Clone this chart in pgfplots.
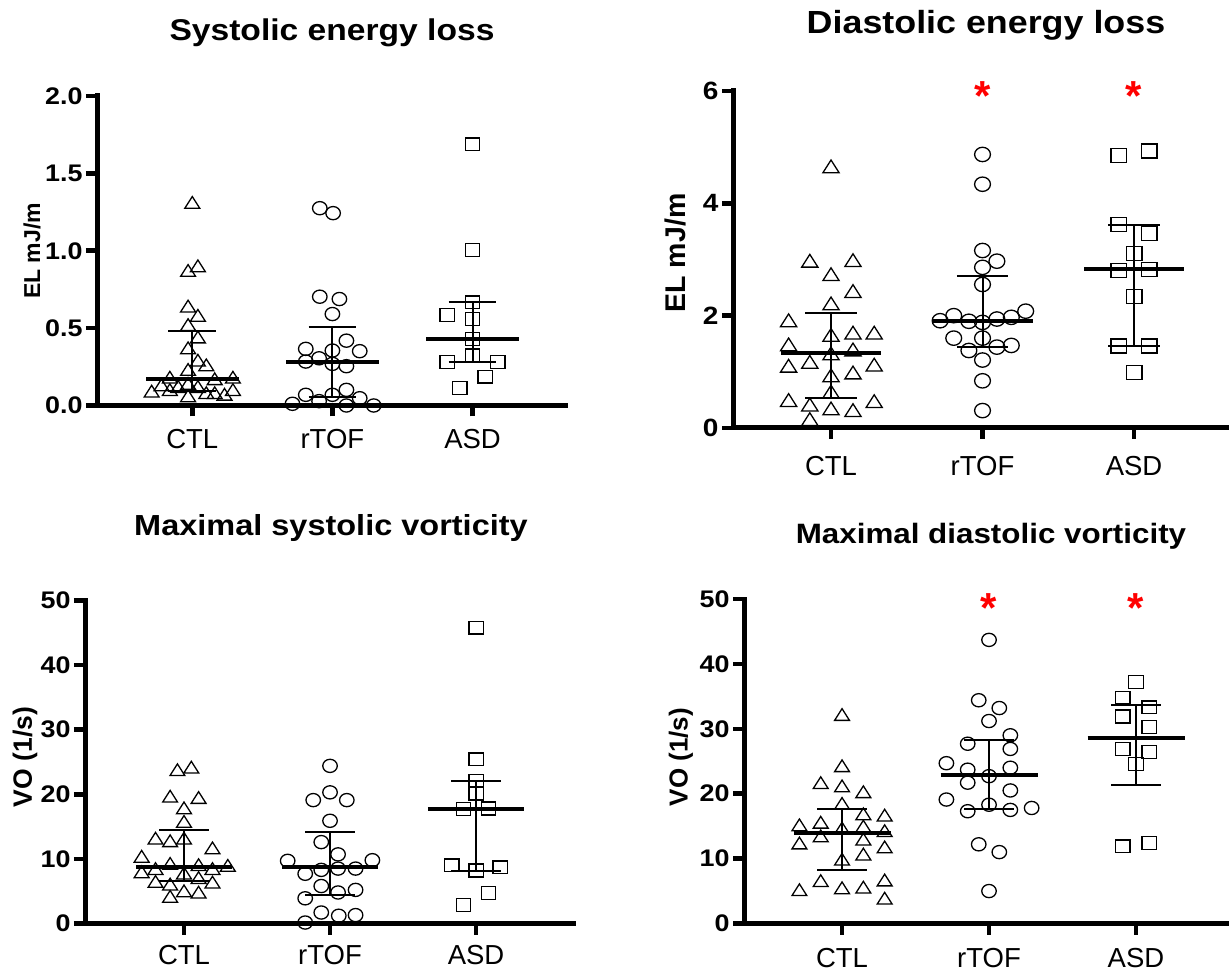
\documentclass[border=0pt]{standalone}
\usepackage{pgfplots}
\pgfplotsset{compat=1.18}
\usepackage{fontspec}
\setmainfont{Liberation Sans}
\newcommand{\sx}[1]{\scalebox{1.12}[1]{#1}}
% #1,#2 median line ends; #3,#4 whisker cap ends; #5 x; #6 median; #7 low; #8 high
\newcommand{\summ}[8]{%
  \addplot[black, line width=2pt] coordinates {(#5,#7) (#5,#8)};
  \addplot[black, line width=2pt] coordinates {(#3,#8) (#4,#8)};
  \addplot[black, line width=2pt] coordinates {(#3,#7) (#4,#7)};
  \addplot[black, line width=4pt] coordinates {(#1,#6) (#2,#6)};
}
\tikzset{sigstar/.style={red, font=\fontsize{42}{42}\selectfont\bfseries, anchor=base, yshift=-23.5pt}}
\pgfplotsset{
  gp/.style={
    scale only axis, anchor=south west, clip=false,
    axis lines=left,
    axis line style={line width=5pt, -, line cap=rect},
    tick align=outside,
    major tick length=11pt,
    tick style={black, line width=4.5pt},
    xtick={1,2,3}, xticklabels={CTL,rTOF,ASD},
    minor tick num=0,
    ymin=0,
    xticklabel style={font=\fontsize{27.5}{30}\selectfont},
    yticklabel style={font=\fontsize{24}{26}\selectfont\bfseries},
  },
  tri/.style={only marks, mark=triangle, mark size=7.8pt, mark options={black, line width=1.3pt, fill=none, xscale=1.1}},
  circ/.style={only marks, mark=o, mark size=6.6pt, mark options={black, line width=1.3pt, fill=none, xscale=1.1}},
  sq/.style={only marks, mark=square, mark size=6.4pt, mark options={black, line width=1.3pt, fill=none, xscale=1.12}},
}
\begin{document}
\begin{tikzpicture}
\useasboundingbox (0pt,0pt) rectangle (1229pt,972pt);

% ---------- Panel 1: Systolic energy loss ----------
\begin{axis}[gp, at={(97pt,566.5pt)}, width=468pt, height=309.5pt,
  xmin=0.32, xmax=3.66, ymax=2,
  xticklabel style={yshift=-9pt},
  ytick={0,0.5,1,1.5,2}, yticklabels={\sx{0.0},\sx{0.5},\sx{1.0},\sx{1.5},\sx{2.0}}]
\addplot[tri] coordinates {(1.00,1.30) (1.04,0.89) (0.97,0.86) (0.97,0.63) (1.04,0.57) (0.97,0.51) (1.04,0.43) (0.97,0.36) (1.04,0.28) (1.10,0.25) (0.97,0.22) (0.84,0.17) (1.16,0.16) (1.29,0.17) (0.78,0.12) (0.97,0.13) (0.71,0.08) (0.84,0.09) (0.90,0.11) (1.04,0.11) (1.10,0.07) (1.16,0.07) (1.23,0.06) (1.29,0.09) (0.97,0.05)};
\addplot[circ] coordinates {(1.91,1.275) (2.005,1.243) (1.91,0.703) (2.05,0.688) (2.00,0.591) (2.10,0.419) (1.81,0.366) (2.00,0.355) (2.195,0.351) (1.81,0.284) (1.905,0.305) (2.00,0.269) (2.10,0.254) (2.10,0.101) (1.81,0.069) (2.00,0.069) (2.195,0.047) (1.905,0.028) (1.715,0.011) (2.10,0.0) (2.295,0.0)};
\addplot[sq] coordinates {(3.00,1.688) (3.00,1.004) (3.00,0.667) (2.82,0.585) (3.00,0.559) (3.00,0.43) (3.00,0.323) (2.82,0.28) (3.18,0.28) (3.09,0.187) (2.91,0.112)};
\summ{0.67}{1.33}{0.83}{1.17}{1}{0.17}{0.095}{0.48}
\summ{1.67}{2.33}{1.83}{2.17}{2}{0.284}{0.055}{0.505}
\summ{2.67}{3.33}{2.83}{3.17}{3}{0.43}{0.28}{0.67}
\end{axis}

% ---------- Panel 2: Diastolic energy loss ----------
\begin{axis}[gp, at={(733pt,544pt)}, width=501pt, height=337pt,
  xmin=0.353, xmax=3.66, ymax=6,
  xticklabel style={yshift=-14pt},
  ytick={0,2,4,6}, yticklabels={\sx{0},\sx{2},\sx{4},\sx{6}},
  yticklabel style={font=\fontsize{25}{27}\selectfont\bfseries},
  tri/.append style={mark size=8.5pt}, circ/.append style={mark size=7.2pt}, sq/.append style={mark size=7pt}]
\addplot[tri] coordinates {(1.00,4.62) (0.86,2.94) (1.145,2.95) (1.00,2.70) (1.145,2.40) (1.00,2.18) (0.72,1.88) (1.00,1.62) (1.145,1.66) (1.285,1.66) (0.72,1.45) (1.145,1.36) (1.00,1.29) (0.86,1.14) (0.72,1.07) (1.285,1.09) (1.145,0.95) (1.00,0.90) (1.00,0.61) (0.72,0.46) (1.285,0.44) (0.86,0.38) (1.00,0.31) (1.145,0.28) (0.86,0.12)};
\addplot[circ] coordinates {(2.00,4.87) (2.00,4.34) (2.00,3.16) (2.095,2.97) (2.00,2.86) (2.00,2.555) (2.285,2.08) (1.72,1.91) (1.81,2.00) (1.91,1.90) (2.00,1.88) (2.095,1.94) (2.19,1.97) (1.81,1.60) (2.00,1.60) (1.91,1.38) (2.095,1.44) (2.19,1.47) (2.00,1.21) (2.00,0.84) (2.00,0.31)};
\addplot[sq] coordinates {(2.90,4.85) (3.10,4.93) (2.90,3.62) (3.10,3.46) (3.00,3.11) (2.90,2.80) (3.10,2.82) (3.00,2.34) (2.90,1.46) (3.10,1.46) (3.00,0.99)};
\summ{0.67}{1.33}{0.83}{1.17}{1}{1.33}{0.535}{2.04}
\summ{1.67}{2.33}{1.83}{2.17}{2}{1.91}{1.45}{2.715}
\summ{2.67}{3.33}{2.83}{3.17}{3}{2.83}{1.46}{3.62}
\node[sigstar, yshift=4pt] at (axis cs:2,6) {*};
\node[sigstar, yshift=4pt] at (axis cs:3,6) {*};
\end{axis}

% ---------- Panel 3: Maximal systolic vorticity ----------
\begin{axis}[gp, at={(85pt,48.5pt)}, width=488pt, height=323pt,
  xmin=0.322, xmax=3.664, ymax=50,
  xticklabel style={yshift=-7pt},
  ytick={0,10,20,30,40,50}, yticklabels={\sx{0},\sx{10},\sx{20},\sx{30},\sx{40},\sx{50}}]
\addplot[tri] coordinates {(0.955,23.5) (1.05,23.9) (0.905,19.4) (1.10,19.2) (1.00,17.6) (1.00,15.5) (0.805,12.9) (0.905,12.5) (1.00,12.9) (1.195,11.4) (0.71,10.1) (0.805,8.2) (0.905,9.0) (1.10,8.8) (1.195,8.2) (1.30,8.7) (0.71,7.7) (1.00,7.5) (1.10,6.8) (0.805,6.2) (0.905,5.8) (1.195,6.1) (1.00,4.75) (1.10,4.55) (0.905,3.9)};
\addplot[circ] coordinates {(2.00,24.4) (2.00,20.3) (1.885,19.1) (2.115,19.1) (2.00,15.9) (1.94,12.6) (2.055,10.7) (1.71,9.7) (2.29,9.8) (1.94,8.3) (2.055,8.5) (2.175,8.5) (1.83,7.7) (1.94,5.8) (2.055,4.8) (2.175,5.2) (1.83,3.9) (1.94,1.7) (2.06,1.2) (2.175,1.3) (1.83,0.15)};
\addplot[sq] coordinates {(3.00,45.8) (3.00,25.4) (3.00,22.1) (3.00,20.1) (2.915,17.7) (3.085,17.8) (2.835,9.0) (3.00,8.2) (3.165,8.7) (3.085,4.75) (2.915,2.85)};
\summ{0.67}{1.33}{0.83}{1.17}{1}{8.8}{6.6}{14.4}
\summ{1.67}{2.33}{1.83}{2.17}{2}{8.7}{4.4}{14.2}
\summ{2.67}{3.33}{2.83}{3.17}{3}{17.8}{8.1}{22.0}
\end{axis}

% ---------- Panel 4: Maximal diastolic vorticity ----------
\begin{axis}[gp, at={(744pt,48.5pt)}, width=489pt, height=324.5pt,
  xmin=0.333, xmax=3.66, ymax=50,
  xticklabel style={yshift=-10pt},
  ytick={0,10,20,30,40,50}, yticklabels={\sx{0},\sx{10},\sx{20},\sx{30},\sx{40},\sx{50}}]
\addplot[tri] coordinates {(1.00,31.9) (1.00,24.0) (0.855,21.4) (1.00,20.9) (1.145,20.0) (1.00,18.2) (1.145,16.6) (1.29,16.4) (0.71,14.9) (0.855,15.3) (1.00,14.4) (1.145,14.7) (1.29,14.0) (0.71,12.1) (0.855,13.2) (1.145,12.7) (1.29,11.5) (1.00,9.6) (1.145,10.4) (0.855,6.3) (1.29,6.4) (0.71,4.9) (1.00,5.2) (1.145,5.3) (1.29,3.6)};
\addplot[circ] coordinates {(2.00,43.7) (1.93,34.4) (2.07,33.2) (2.00,31.2) (1.855,27.7) (2.145,29.0) (2.145,26.9) (1.71,24.7) (1.855,23.7) (2.145,24.0) (2.00,22.7) (1.855,21.7) (2.145,20.5) (1.71,19.1) (2.00,18.3) (1.855,17.3) (2.145,17.5) (2.29,17.8) (1.93,12.2) (2.07,11.0) (2.00,5.0)};
\addplot[sq] coordinates {(3.00,37.2) (2.91,34.8) (3.09,33.3) (2.91,31.9) (3.09,30.3) (2.91,26.9) (3.09,26.4) (3.00,24.6) (2.91,11.9) (3.09,12.4)};
\summ{0.67}{1.33}{0.83}{1.17}{1}{14.0}{8.3}{17.6}
\summ{1.67}{2.33}{1.83}{2.17}{2}{22.9}{17.7}{28.3}
\summ{2.67}{3.33}{2.83}{3.17}{3}{28.6}{21.4}{33.7}
\node[sigstar] at (axis cs:2,50) {*};
\node[sigstar] at (axis cs:3,50) {*};
\end{axis}

% ---------- titles and y labels ----------
\node[anchor=base, font=\fontsize{30}{36}\selectfont\bfseries] at (332pt,931pt) {\sx{Systolic energy loss}};
\node[anchor=base, font=\fontsize{32}{38}\selectfont\bfseries] at (986pt,938.7pt) {\sx{Diastolic energy loss}};
\node[anchor=base, font=\fontsize{29}{34}\selectfont\bfseries] at (331pt,436pt) {\sx{Maximal systolic vorticity}};
\node[anchor=base, font=\fontsize{28}{34}\selectfont\bfseries] at (991pt,428pt) {\sx{Maximal diastolic vorticity}};

\node[rotate=90, font=\fontsize{23}{28}\selectfont\bfseries] at (32pt,721pt) {EL mJ/m};
\node[rotate=90, font=\fontsize{28.5}{32}\selectfont\bfseries] at (675pt,719pt) {EL mJ/m};
\node[rotate=90, font=\fontsize{26.5}{30}\selectfont\bfseries] at (25pt,215pt) {VO (1/s)};
\node[rotate=90, font=\fontsize{26}{30}\selectfont\bfseries] at (681pt,215pt) {VO (1/s)};
\end{tikzpicture}
\end{document}
